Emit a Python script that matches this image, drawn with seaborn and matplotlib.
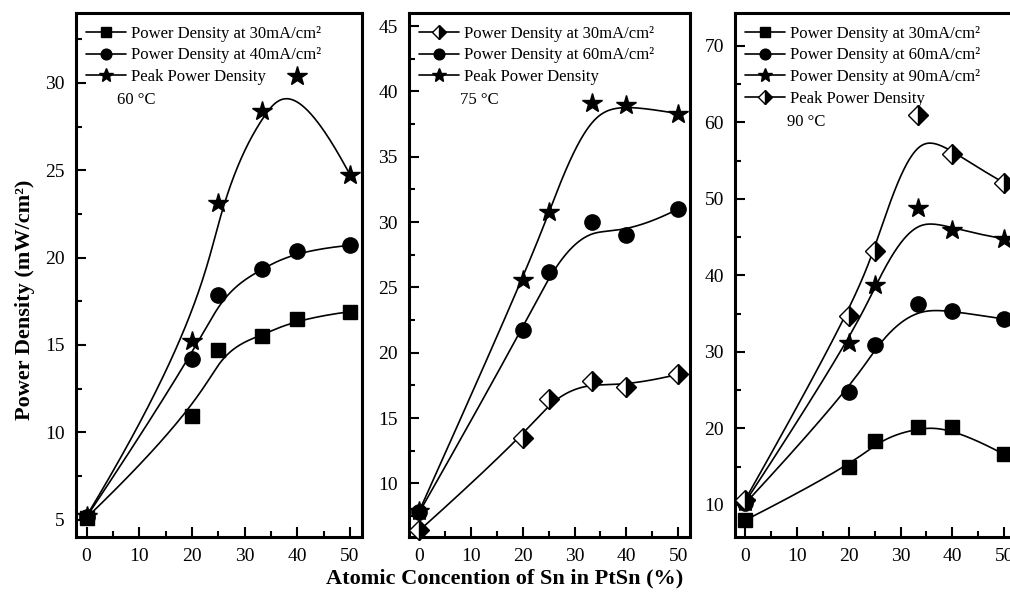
import numpy as np
import matplotlib
matplotlib.use("Agg")
import matplotlib.pyplot as plt
from matplotlib.lines import Line2D
from matplotlib.ticker import MultipleLocator
import seaborn as sns

sns.set_style("ticks")
plt.rcParams['font.family'] = ['Liberation Serif', 'DejaVu Serif']
plt.rcParams['text.color'] = 'black'
plt.rcParams['axes.edgecolor'] = 'black'
plt.rcParams['axes.labelcolor'] = 'black'
plt.rcParams['xtick.color'] = 'black'
plt.rcParams['ytick.color'] = 'black'

# ---------------- data ----------------
sn = [0, 20, 25, 33.3, 40, 50]

# 60 C
p60_30 = [5.1, 10.9, 14.7, 15.5, 16.5, 16.9]
p60_40 = [5.15, 14.2, 17.85, 19.35, 20.4, 20.7]
p60_peak = [5.2, 15.2, 23.1, 28.4, 30.4, 24.75]

# 75 C
p75_30 = [6.4, 13.5, 16.45, 17.85, 17.4, 18.35]
p75_60 = [7.8, 21.75, 26.2, 30.0, 29.0, 31.0]
p75_peak = [7.9, 25.55, 30.75, 39.15, 38.95, 38.3]

# 90 C
p90_30 = [8.0, 14.9, 18.3, 20.2, 20.2, 16.6]
p90_60 = [10.2, 24.8, 30.9, 36.2, 35.3, 34.3]
p90_90 = [10.4, 31.1, 38.8, 48.8, 45.9, 44.8]
p90_peak = [10.7, 34.7, 43.2, 61.0, 55.9, 52.1]

lab30 = "Power Density at 30mA/cm\u00b2"
lab40 = "Power Density at 40mA/cm\u00b2"
lab60 = "Power Density at 60mA/cm\u00b2"
lab90 = "Power Density at 90mA/cm\u00b2"
labpk = "Peak Power Density"

temps = ["60 \u00b0C", "75 \u00b0C", "90 \u00b0C"]
xlabel = "Atomic Concention of Sn in PtSn (%)"
ylabel = "Power Density (mW/cm\u00b2)"


def bspline(xs, ys, n=300):
    """clamped cubic B-spline using the data points as control points"""
    P = np.column_stack([xs, ys]).astype(float)
    m = len(P)
    k = 3
    inner = np.linspace(0, 1, m - k + 1)
    knots = np.concatenate([[0] * k, inner, [1] * k])
    t = np.linspace(0, 1 - 1e-9, n)

    def N(i, p, t):
        if p == 0:
            return np.where((knots[i] <= t) & (t < knots[i + 1]), 1.0, 0.0)
        a = 0.0
        b = 0.0
        d1 = knots[i + p] - knots[i]
        d2 = knots[i + p + 1] - knots[i + 1]
        if d1 > 0:
            a = (t - knots[i]) / d1 * N(i, p - 1, t)
        if d2 > 0:
            b = (knots[i + p + 1] - t) / d2 * N(i + 1, p - 1, t)
        return a + b

    B = np.array([N(i, k, t) for i in range(m)])
    C = B.T @ P
    C = np.vstack([C, P[-1]])
    return C[:, 0], C[:, 1]


sq = dict(marker='s', ms=10, mfc='black', mec='black')
ci = dict(marker='o', ms=11, mfc='black', mec='black')
st = dict(marker='*', ms=15, mfc='black', mec='black')
di = dict(marker='D', ms=10, mfc='black', mfcalt='white', mec='black',
          fillstyle='right', mew=1.0)

fig = plt.figure(figsize=(10.10, 5.99), dpi=100)
H = 599.0
W = 1010.0
def rect(l, r, t, b):
    return [l / W, 1 - b / H, (r - l) / W, (b - t) / H]

ax1 = fig.add_axes(rect(76, 362, 13, 537))
ax2 = fig.add_axes(rect(409, 690, 13, 537))
ax3 = fig.add_axes(rect(735, 1016, 13, 537))

panels = [
    (ax1, [(p60_30, sq, lab30), (p60_40, ci, lab40), (p60_peak, st, labpk)],
     (4.0, 34.0), 5, 2.5, temps[0], (117, 100)),
    (ax2, [(p75_30, di, lab30), (p75_60, ci, lab60), (p75_peak, st, labpk)],
     (5.9, 46.0), 5, 2.5, temps[1], (460, 100)),
    (ax3, [(p90_30, sq, lab30), (p90_60, ci, lab60), (p90_90, st, lab90), (p90_peak, di, labpk)],
     (5.8, 74.3), 10, 5, temps[2], (787, 122)),
]

for ax, series, ylim, maj, mnr, ttxt, tpos in panels:
    handles = []
    for ys, mk, lab in series:
        cx, cy = bspline(sn, ys)
        sns.lineplot(x=cx, y=cy, ax=ax, color='black', lw=1.2, sort=False,
                     estimator=None)
        ax.plot(sn, ys, ls='none', clip_on=False, zorder=5, **mk)
        hk = dict(mk)
        hk['ms'] = mk['ms'] * 0.7
        handles.append(Line2D([], [], color='black', lw=1.2, label=lab, **hk))
    ax.set_xlim(-2, 52.3)
    ax.set_ylim(*ylim)
    ax.xaxis.set_major_locator(MultipleLocator(10))
    ax.xaxis.set_minor_locator(MultipleLocator(5))
    ax.yaxis.set_major_locator(MultipleLocator(maj))
    ax.yaxis.set_minor_locator(MultipleLocator(mnr))
    ax.tick_params(which='both', direction='in', top=False, right=False,
                   labelsize=14, width=1.5, colors='black')
    ax.tick_params(which='major', length=7, pad=8)
    ax.tick_params(which='minor', length=4)
    for s in ax.spines.values():
        s.set_linewidth(2.2)
        s.set_color('black')
        s.set_visible(True)
    ax.set_xlabel("")
    ax.set_ylabel("")
    leg = ax.legend(handles=handles, loc='upper left', frameon=False,
                    fontsize=12, handlelength=2.4, handletextpad=0.3,
                    labelspacing=0.35, borderaxespad=0.2,
                    bbox_to_anchor=(0.0, 0.995))
    for txt in leg.get_texts():
        txt.set_color('black')
    fig.text(tpos[0] / W, 1 - tpos[1] / H, ttxt, fontsize=12,
             ha='left', va='center', color='black')

fig.text(25 / W, 0.5, ylabel, rotation=90, fontsize=16, fontweight='bold',
         ha='center', va='center', color='black')
fig.text(0.5, 1 - 578 / H, xlabel, fontsize=16, fontweight='bold',
         ha='center', va='center', color='black')

fig.savefig("out.png", dpi=100)
